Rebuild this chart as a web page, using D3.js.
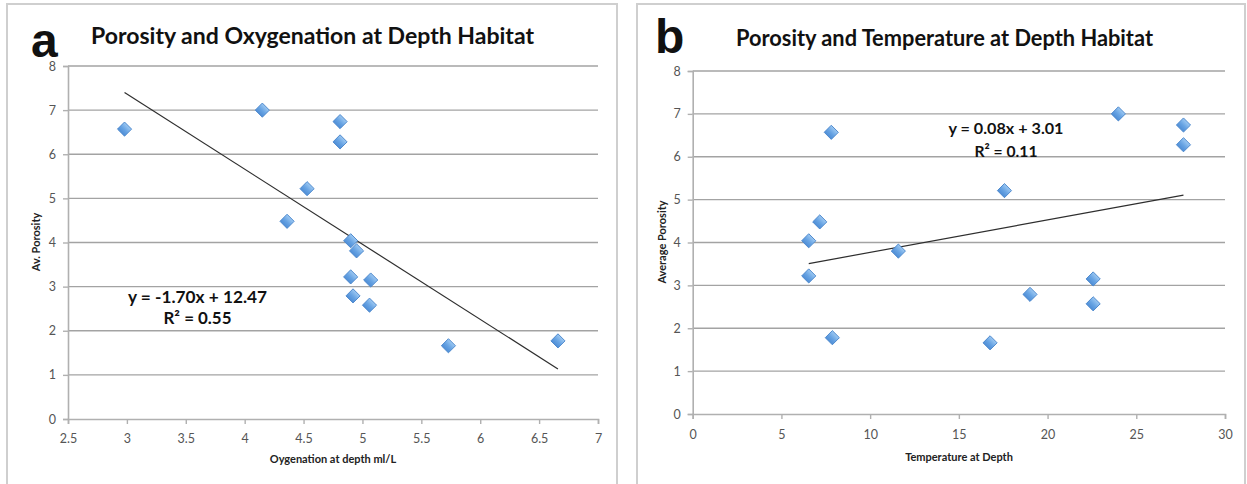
<!DOCTYPE html>
<html>
<head>
<meta charset="utf-8">
<script src="https://cdn.jsdelivr.net/npm/d3@7"></script>
<style>
  html, body { margin: 0; padding: 0; background: #fff; }
  svg { display: block; }
  text { font-family: Lato, "Open Sans", sans-serif; }
</style>
</head>
<body>
<svg id="chart" width="1247" height="484"></svg>
<script>
// Panel a: porosity against dissolved oxygen at depth
const oxygenation = [2.98, 4.15, 4.81, 4.81, 4.53, 4.36, 4.90, 4.95, 4.90, 5.07, 4.92, 5.06, 5.73, 6.66];
const porosityA   = [6.57, 7.00, 6.74, 6.28, 5.22, 4.48, 4.04, 3.81, 3.22, 3.15, 2.79, 2.58, 1.66, 1.77];
const fitA = { slope: -1.702, intercept: 12.47, r2: 0.55 };
const xTicksA = [2.5, 3, 3.5, 4, 4.5, 5, 5.5, 6, 6.5, 7];

// Panel b: porosity against temperature at depth
const temperature = [7.81, 7.16, 6.54, 11.59, 6.54, 7.87, 23.99, 27.66, 27.66, 17.57, 22.57, 19.01, 22.57, 16.76];
const porosityB   = [6.57, 4.48, 4.04, 3.80, 3.22, 1.78, 7.00, 6.74, 6.28, 5.21, 3.15, 2.79, 2.57, 1.66];
const fitB = { slope: 0.0757, intercept: 3.013, r2: 0.11 };
const xTicksB = [0, 5, 10, 15, 20, 25, 30];

const yTicks = [0, 1, 2, 3, 4, 5, 6, 7, 8];

const svg = d3.select("#chart");

const defs = svg.append("defs");
const grad = defs.append("linearGradient")
  .attr("id", "markerFill").attr("x1", 0).attr("y1", 0).attr("x2", 0).attr("y2", 1);
grad.append("stop").attr("offset", "0%").attr("stop-color", "#9cc8f2");
grad.append("stop").attr("offset", "55%").attr("stop-color", "#67a3e3");
grad.append("stop").attr("offset", "100%").attr("stop-color", "#4f8ed6");

const panels = [
  {
    letter: "a", letterX: 31, letterY: 57,
    frame: { x: 7, y: 4, w: 610, h: 492 },
    title: "Porosity and Oxygenation at Depth Habitat", titleX: 91, titleY: 44, titleW: 443,
    xs: oxygenation, ys: porosityA, fit: fitA, xDomain: [2.5, 7], xTicks: xTicksA,
    plot: { left: 68, right: 598, top: 66, bottom: 419 },
    xLabel: "Oygenation at depth ml/L", xLabelX: 333, xLabelY: 463,
    yLabel: "Av. Porosity", yLabelX: 40, yLabelY: 242,
    eqX: 197.5, eqY: 303, r2Y: 324, eqSize: 17, eqW: 139, r2W: 68, xTickGap: 10
  },
  {
    letter: "b", letterX: 655, letterY: 53,
    frame: { x: 637, y: 4, w: 608, h: 492 },
    title: "Porosity and Temperature at Depth Habitat", titleX: 736, titleY: 46, titleW: 417,
    xs: temperature, ys: porosityB, fit: fitB, xDomain: [0, 30], xTicks: xTicksB,
    plot: { left: 692.7, right: 1225, top: 71, bottom: 414 },
    xLabel: "Temperature at Depth", xLabelX: 959, xLabelY: 461,
    yLabel: "Average Porosity", yLabelX: 666, yLabelY: 242,
    eqX: 1006, eqY: 134, r2Y: 157, eqSize: 16, eqW: 115, r2W: 63, xTickGap: 11
  }
];

panels.forEach(p => {
  const g = svg.append("g");

  g.append("rect")
    .attr("x", p.frame.x).attr("y", p.frame.y)
    .attr("width", p.frame.w).attr("height", p.frame.h)
    .attr("fill", "#fff").attr("stroke", "#cfcfcf").attr("stroke-width", 2);

  g.append("text")
    .attr("x", p.letterX).attr("y", p.letterY)
    .style("font-family", "'Liberation Sans', Arial, sans-serif")
    .style("font-weight", 700).style("font-size", "48px")
    .attr("fill", "#111").text(p.letter);

  g.append("text")
    .attr("x", p.titleX).attr("y", p.titleY)
    .attr("textLength", p.titleW).attr("lengthAdjust", "spacingAndGlyphs")
    .style("font-weight", 700).style("font-size", "23px")
    .attr("fill", "#111").text(p.title);

  const x = d3.scaleLinear().domain(p.xDomain).range([p.plot.left, p.plot.right]);
  const y = d3.scaleLinear().domain([0, 8]).range([p.plot.bottom, p.plot.top]);

  // horizontal gridlines
  g.append("g").selectAll("line")
    .data(yTicks.filter(d => d > 0))
    .join("line")
    .attr("x1", p.plot.left).attr("x2", p.plot.right)
    .attr("y1", d => y(d)).attr("y2", d => y(d))
    .attr("stroke", "#a3a3a3").attr("stroke-width", 1.4);

  // y axis
  const yAxis = g.append("g")
    .attr("transform", `translate(${p.plot.left},0)`)
    .call(d3.axisLeft(y).tickValues(yTicks).tickSize(5).tickPadding(7).tickFormat(d3.format("d")));
  // x axis
  const xAxis = g.append("g")
    .attr("transform", `translate(0,${p.plot.bottom})`)
    .call(d3.axisBottom(x).tickValues(p.xTicks).tickSize(5).tickPadding(p.xTickGap).tickFormat(d => String(d)));

  [yAxis, xAxis].forEach(ax => {
    ax.select(".domain").attr("stroke", "#b0b0b0").attr("stroke-width", 1.6);
    ax.selectAll(".tick line").attr("stroke", "#b0b0b0").attr("stroke-width", 1.4);
    ax.selectAll(".tick text")
      .style("font-family", "Lato, sans-serif").style("font-size", "12.5px")
      .attr("fill", "#555");
  });

  // axis titles
  g.append("text")
    .attr("x", p.xLabelX).attr("y", p.xLabelY)
    .attr("text-anchor", "middle")
    .style("font-weight", 700).style("font-size", "11px")
    .attr("fill", "#222").text(p.xLabel);

  g.append("text")
    .attr("transform", `translate(${p.yLabelX},${p.yLabelY}) rotate(-90)`)
    .attr("text-anchor", "middle")
    .style("font-weight", 700).style("font-size", "11px")
    .attr("fill", "#222").text(p.yLabel);

  // linear trend line over the range of the data
  const [x0, x1] = d3.extent(p.xs);
  const line = d3.line().x(d => x(d)).y(d => y(p.fit.slope * d + p.fit.intercept));
  g.append("path")
    .datum([x0, x1])
    .attr("d", line)
    .attr("fill", "none").attr("stroke", "#2e2e2e").attr("stroke-width", 1.2);

  // diamond markers
  const diamond = d3.symbol().type(d3.symbolSquare).size(100);
  g.append("g").selectAll("path")
    .data(p.xs.map((v, i) => [v, p.ys[i]]))
    .join("path")
    .attr("d", diamond)
    .attr("transform", d => `translate(${x(d[0])},${y(d[1])}) rotate(45)`)
    .attr("fill", "url(#markerFill)")
    .attr("stroke", "#4a86cc").attr("stroke-width", 0.9);

  // regression equation
  const sign = p.fit.intercept >= 0 ? "+" : "-";
  const eq = `y = ${p.fit.slope.toFixed(2)}x ${sign} ${Math.abs(p.fit.intercept).toFixed(2)}`;
  g.append("text")
    .attr("x", p.eqX).attr("y", p.eqY).attr("text-anchor", "middle")
    .attr("textLength", p.eqW).attr("lengthAdjust", "spacingAndGlyphs")
    .style("font-weight", 700).style("font-size", p.eqSize + "px")
    .attr("fill", "#111").text(eq);
  g.append("text")
    .attr("x", p.eqX).attr("y", p.r2Y).attr("text-anchor", "middle")
    .attr("textLength", p.r2W).attr("lengthAdjust", "spacingAndGlyphs")
    .style("font-weight", 700).style("font-size", p.eqSize + "px")
    .attr("fill", "#111").text(`R² = ${p.fit.r2.toFixed(2)}`);
});
</script>
</body>
</html>
